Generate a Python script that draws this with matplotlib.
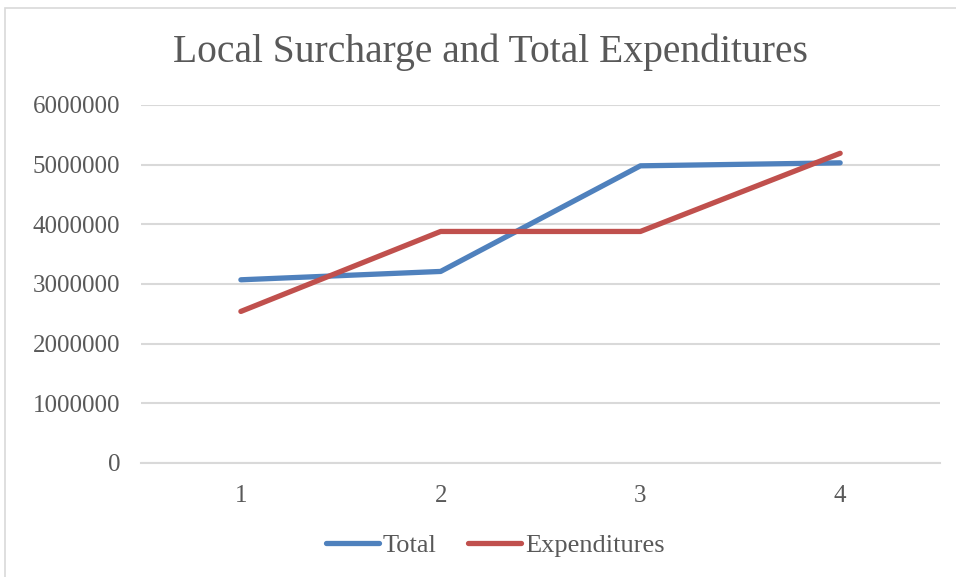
import matplotlib.pyplot as plt
from matplotlib.patches import Rectangle

# Données
categories = [1, 2, 3, 4]
total = [3070000, 3210000, 4980000, 5030000]
expenditures = [2540000, 3880000, 3880000, 5190000]
y_ticks = [0, 1000000, 2000000, 3000000, 4000000, 5000000, 6000000]

text_color = '#595959'
grid_color = '#D9D9D9'
font = 'Liberation Serif'

fig = plt.figure(figsize=(9.56, 5.77), dpi=100)
ax = fig.add_axes([0.1475, 0.1976, 0.8358, 0.6205])

ax.plot(categories, total, color='#4F81BD', linewidth=3.8, solid_capstyle='round',
        solid_joinstyle='round', label='Total')
ax.plot(categories, expenditures, color='#C0504D', linewidth=3.8, solid_capstyle='round',
        solid_joinstyle='round', label='Expenditures')

ax.set_xlim(0.5, 4.5)
ax.set_ylim(0, 6000000)
ax.set_xticks(categories)
ax.set_xticklabels([str(c) for c in categories])
ax.set_yticks(y_ticks)
ax.set_yticklabels([str(v) for v in y_ticks])
ax.grid(True, axis='y', color=grid_color, linewidth=1.5)
ax.set_axisbelow(True)
for side in ['top', 'right', 'left']:
    ax.spines[side].set_visible(False)
ax.spines['bottom'].set_color(grid_color)
ax.spines['bottom'].set_linewidth(1.5)
ax.tick_params(axis='both', length=0, labelsize=18, labelcolor=text_color)
ax.tick_params(axis='y', pad=15)
ax.tick_params(axis='x', pad=16)
for lbl in ax.get_xticklabels() + ax.get_yticklabels():
    lbl.set_fontfamily(font)

fig.text(0.5125, 0.91, 'Local Surcharge and Total Expenditures', ha='center', va='center',
         fontsize=28.5, color=text_color, family=font)

leg = fig.legend(loc='center', bbox_to_anchor=(0.518, 0.055), ncol=2, frameon=False,
                 prop={'family': font, 'size': 19}, handlelength=2.0, handletextpad=0.15,
                 columnspacing=1.2)
for t in leg.get_texts():
    t.set_color(text_color)

# Bordure de la zone du graphique
fig.patches.append(Rectangle((5 / 956, -0.1), 1.1, 1.1 - 8 / 577, transform=fig.transFigure,
                             fill=False, edgecolor=grid_color, linewidth=1.2))

plt.savefig('out.png', dpi=100)
